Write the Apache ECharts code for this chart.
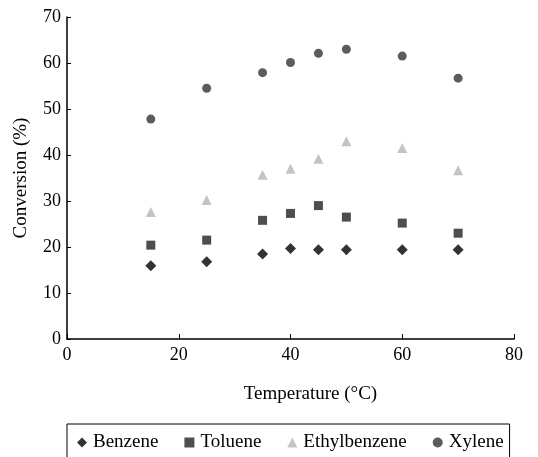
<!DOCTYPE html>
<html><head><meta charset="utf-8">
<script src="https://cdn.jsdelivr.net/npm/echarts@6/dist/echarts.min.js"></script>
<style>html,body{margin:0;padding:0;background:#fff}#c{width:538px;height:457px}</style>
</head><body><div id="c"></div>
<script>
const temperatures = [15, 25, 35, 40, 45, 50, 60, 70];
const benzene = [15.9, 16.8, 18.5, 19.7, 19.4, 19.4, 19.4, 19.4];
const toluene = [20.4, 21.5, 25.8, 27.3, 29.0, 26.5, 25.2, 23.0];
const ethylbenzene = [27.6, 30.2, 35.7, 37.0, 39.2, 43.0, 41.5, 36.7];
const xylene = [47.8, 54.5, 57.9, 60.1, 62.1, 63.0, 61.5, 56.7];
const seriesNames = ['Benzene', 'Toluene', 'Ethylbenzene', 'Xylene'];
const xTicks = [0, 20, 40, 60, 80];
const yTicks = [0, 10, 20, 30, 40, 50, 60, 70];

const font = 'Liberation Serif, Times New Roman, serif';
const pair = arr => temperatures.map((t, i) => [t, arr[i]]);
const styles = [
  {symbol: 'diamond', size: 11, color: '#000'},
  {symbol: 'rect', size: 9, color: '#222'},
  {symbol: 'triangle', size: 10, color: '#b5b5b5'},
  {symbol: 'circle', size: 9, color: '#333'}
];
const data = [benzene, toluene, ethylbenzene, xylene];
const chart = echarts.init(document.getElementById('c'));
chart.setOption({
  animation: false,
  backgroundColor: '#fff',
  grid: {left: 67, right: 24, top: 17, bottom: 118},
  xAxis: {
    type: 'value', min: xTicks[0], max: xTicks[xTicks.length-1], interval: 20,
    name: 'Temperature (°C)', nameLocation: 'middle', nameGap: 46,
    nameTextStyle: {fontFamily: font, fontSize: 19, color: '#000', padding: [0, 0, 0, 40]},
    axisLine: {show: true, lineStyle: {color: '#000', width: 1.5}},
    axisTick: {show: true, inside: true, length: 5, lineStyle: {color: '#000'}},
    axisLabel: {fontFamily: font, fontSize: 18, color: '#000', margin: 7},
    splitLine: {show: false}
  },
  yAxis: {
    type: 'value', min: yTicks[0], max: yTicks[yTicks.length-1], interval: 10,
    name: 'Conversion (%)', nameLocation: 'middle', nameGap: 36,
    nameTextStyle: {fontFamily: font, fontSize: 19, color: '#000'},
    axisLine: {show: true, lineStyle: {color: '#000', width: 1.5}},
    axisTick: {show: true, inside: true, length: 4, lineStyle: {color: '#000'}},
    axisLabel: {fontFamily: font, fontSize: 18, color: '#000', margin: 6},
    splitLine: {show: false}
  },
  legend: {
    left: 67, top: 424, width: 450,
    padding: [9, 6, 20, 10],
    itemGap: 26, itemWidth: 10, itemHeight: 10,
    borderColor: '#000', borderWidth: 1,
    textStyle: {fontFamily: font, fontSize: 19, color: '#000', padding: [0, 0, 0, 1]},
    data: seriesNames.map((n, i) => ({name: n, icon: styles[i].symbol}))
  },
  series: seriesNames.map((n, i) => ({
    name: n, type: 'scatter', data: pair(data[i]),
    symbol: styles[i].symbol, symbolSize: styles[i].size,
    itemStyle: {color: styles[i].color}
  }))
});
</script></body></html>
